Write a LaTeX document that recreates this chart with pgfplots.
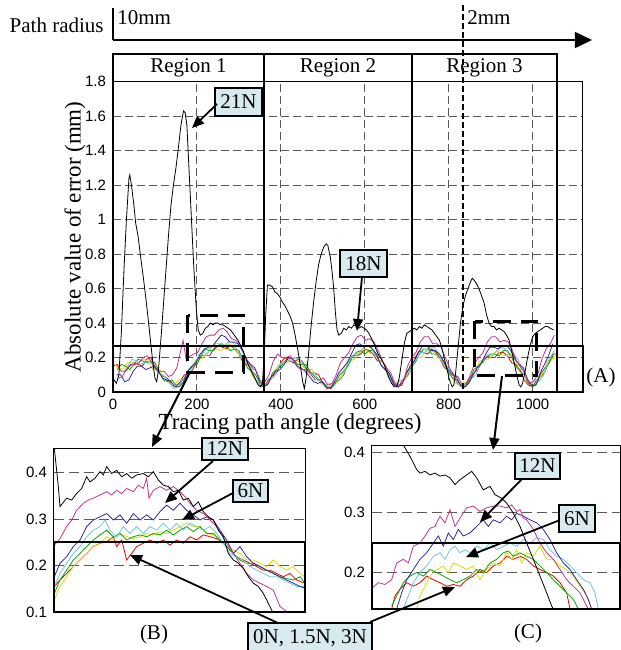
\documentclass[border=0pt]{standalone}
\usepackage{fontspec}
\setmainfont{Liberation Serif}
\setsansfont{Liberation Sans}
\usepackage{pgfplots}
\pgfplotsset{compat=1.18}
\usetikzlibrary{arrows.meta}
\definecolor{cR}{RGB}{235,0,0}
\definecolor{cY}{RGB}{220,220,0}
\definecolor{cG}{RGB}{0,170,0}
\definecolor{cC}{RGB}{110,195,230}
\definecolor{cB}{RGB}{50,40,160}
\definecolor{cM}{RGB}{195,50,145}
\definecolor{boxfill}{RGB}{214,234,240}
\pgfplotsset{
  every axis/.append style={scale only axis, anchor=south west,
    axis line style={line width=0.5pt},
    major tick length=0pt,
    /pgf/number format/assume math mode=true,
    ticklabel style={font=\sffamily\fontsize{7.5}{8}\selectfont},
    grid style={dash pattern=on 4pt off 2pt, black!65, line width=0.45pt}},
  ser/.style={line width=0.4pt, mark=none}
}
\begin{document}
\begin{tikzpicture}
\path[use as bounding box] (0pt,0pt) rectangle (310.5pt,-325pt);
% ---------------- main axis (A)
\begin{axis}[at={(56.5pt,-196pt)}, width=235pt, height=155.15pt,
  xmin=0, xmax=1120, ymin=0, ymax=1.8,
  xtick={0,200,400,600,800,1000}, xticklabels={0,200,400,600,800,1000},
  ytick={0,0.2,0.4,0.6,0.8,1,1.2,1.4,1.6,1.8},
  yticklabels={0,0.2,0.4,0.6,0.8,1,1.2,1.4,1.6,1.8},
  grid=major,
  ylabel={Absolute value of error (mm)},
  ylabel style={font=\fontsize{11.5}{13}\selectfont, at={(axis description cs:-0.081,0.5)}, anchor=center},
]
\addplot[ser,cR] coordinates {(0,.15)(10,.16)(20,.12)(30,.12)(40,.15)(50,.17)(60,.16)(70,.15)(80,.19)(90,.20)(100,.15)(110,.11)(120,.09)(130,.08)(140,.04)(150,.03)(160,.06)(170,.10)(180,.10)(190,.13)(200,.18)(210,.21)(220,.21)(230,.21)(240,.25)(250,.27)(260,.26)(270,.25)(280,.27)(290,.25)(300,.22)(310,.17)(320,.16)(330,.13)(340,.07)(350,.04)(360,.03)(370,.07)(380,.09)(390,.11)(400,.17)(410,.20)(420,.18)(430,.17)(440,.19)(450,.18)(460,.14)(470,.11)(480,.11)(490,.10)(500,.05)(510,.02)(520,.03)(530,.06)(540,.07)(550,.10)(560,.17)(570,.21)(580,.21)(590,.22)(600,.25)(610,.24)(620,.22)(630,.18)(640,.18)(650,.15)(660,.08)(670,.04)(680,.03)(690,.07)(700,.09)(710,.13)(720,.20)(730,.24)(740,.23)(750,.22)(760,.25)(770,.23)(780,.19)(790,.14)(800,.13)(810,.11)(820,.05)(830,.03)(840,.03)(850,.08)(860,.11)(870,.13)(880,.18)(890,.21)(900,.20)(910,.20)(920,.23)(930,.23)(940,.21)(950,.17)(960,.16)(970,.13)(980,.07)(990,.04)(1000,.03)(1010,.07)(1020,.09)(1030,.12)(1040,.18)(1048,.22)(1055,.22)};
\addplot[ser,cY] coordinates {(5,.16)(15,.13)(25,.14)(35,.17)(45,.17)(55,.16)(65,.18)(75,.19)(85,.17)(95,.13)(105,.14)(115,.12)(125,.08)(135,.05)(145,.03)(155,.07)(165,.07)(175,.08)(185,.13)(195,.18)(205,.19)(215,.20)(225,.23)(235,.27)(245,.26)(255,.24)(265,.25)(275,.28)(285,.27)(295,.23)(305,.21)(315,.19)(325,.14)(335,.08)(345,.06)(355,.06)(365,.04)(375,.07)(385,.12)(395,.16)(405,.17)(415,.17)(425,.20)(435,.20)(445,.17)(455,.14)(465,.13)(475,.13)(485,.09)(495,.05)(505,.04)(515,.05)(525,.04)(535,.06)(545,.10)(555,.16)(565,.18)(575,.19)(585,.23)(595,.25)(605,.24)(615,.22)(625,.22)(635,.21)(645,.16)(655,.09)(665,.06)(675,.06)(685,.04)(695,.07)(705,.12)(715,.18)(725,.20)(735,.20)(745,.24)(755,.25)(765,.23)(775,.20)(785,.18)(795,.16)(805,.10)(815,.05)(825,.04)(835,.06)(845,.05)(855,.08)(865,.13)(875,.18)(885,.19)(895,.19)(905,.22)(915,.24)(925,.22)(935,.21)(945,.22)(955,.21)(965,.15)(975,.09)(985,.06)(995,.06)(1005,.04)(1015,.07)(1025,.12)(1035,.18)(1045,.20)(1050,.19)(1055,.22)};
\addplot[ser,cG] coordinates {(10,.13)(20,.16)(30,.15)(40,.13)(50,.16)(60,.19)(70,.18)(80,.17)(90,.18)(100,.17)(110,.12)(120,.07)(130,.06)(140,.07)(150,.04)(160,.05)(170,.08)(180,.13)(190,.15)(200,.16)(210,.21)(220,.25)(230,.24)(240,.24)(250,.27)(260,.28)(270,.26)(280,.24)(290,.25)(300,.24)(310,.19)(320,.14)(330,.12)(340,.10)(350,.05)(360,.03)(370,.05)(380,.11)(390,.13)(400,.15)(410,.18)(420,.20)(430,.19)(440,.16)(450,.16)(460,.16)(470,.12)(480,.09)(490,.07)(500,.06)(510,.03)(520,.02)(530,.05)(540,.10)(550,.12)(560,.15)(570,.20)(580,.23)(590,.24)(600,.22)(610,.24)(620,.24)(630,.20)(640,.15)(650,.13)(660,.10)(670,.05)(680,.03)(690,.05)(700,.12)(710,.14)(720,.17)(730,.22)(740,.25)(750,.25)(760,.22)(770,.22)(780,.21)(790,.16)(800,.11)(810,.08)(820,.07)(830,.03)(840,.03)(850,.07)(860,.13)(870,.15)(880,.17)(890,.20)(900,.22)(910,.22)(920,.21)(930,.24)(940,.24)(950,.20)(960,.15)(970,.12)(980,.10)(990,.05)(1000,.03)(1010,.05)(1020,.11)(1030,.14)(1040,.17)(1050,.22)};
\addplot[ser,cC] coordinates {(15,.12)(25,.12)(35,.15)(45,.19)(55,.18)(65,.16)(75,.17)(85,.18)(95,.16)(105,.12)(115,.10)(125,.09)(135,.05)(145,.02)(155,.03)(165,.07)(175,.09)(185,.12)(195,.17)(205,.22)(215,.23)(225,.22)(235,.26)(245,.28)(255,.28)(265,.27)(275,.29)(285,.29)(295,.25)(305,.20)(315,.18)(325,.15)(335,.10)(345,.05)(355,.04)(365,.07)(375,.07)(385,.09)(395,.15)(405,.17)(415,.18)(425,.18)(435,.20)(445,.19)(455,.15)(465,.11)(475,.11)(485,.09)(495,.06)(505,.03)(515,.03)(525,.06)(535,.06)(545,.08)(555,.14)(565,.19)(575,.22)(585,.22)(595,.25)(605,.27)(615,.26)(625,.21)(635,.21)(645,.17)(655,.11)(665,.06)(675,.04)(685,.07)(695,.07)(705,.10)(715,.16)(725,.20)(735,.23)(745,.23)(755,.26)(765,.26)(775,.23)(785,.17)(795,.15)(805,.12)(815,.07)(825,.04)(835,.03)(845,.07)(855,.08)(865,.10)(875,.16)(885,.20)(895,.22)(905,.21)(915,.24)(925,.26)(935,.25)(945,.21)(955,.22)(965,.19)(975,.14)(985,.08)(995,.05)(1005,.07)(1015,.06)(1025,.09)(1035,.16)(1044,.21)(1052,.24)};
\addplot[ser,cB] coordinates {(8,.10)(18,.10)(28,.06)(38,.07)(48,.12)(58,.15)(68,.15)(78,.13)(88,.14)(98,.15)(108,.12)(118,.08)(128,.07)(138,.06)(148,.03)(158,.03)(168,.06)(178,.12)(188,.15)(198,.17)(208,.22)(218,.25)(228,.26)(238,.27)(248,.30)(258,.33)(268,.32)(278,.29)(288,.29)(298,.28)(308,.24)(318,.19)(328,.16)(338,.14)(348,.07)(358,.04)(368,.04)(378,.09)(388,.12)(398,.13)(408,.16)(418,.20)(428,.19)(438,.15)(448,.14)(458,.12)(468,.09)(478,.06)(488,.05)(498,.06)(508,.03)(518,.02)(528,.06)(538,.11)(548,.14)(558,.17)(568,.22)(578,.27)(588,.28)(598,.26)(608,.27)(618,.25)(628,.22)(638,.16)(648,.13)(658,.11)(668,.05)(678,.03)(688,.04)(698,.10)(708,.15)(718,.18)(728,.23)(738,.27)(748,.27)(758,.24)(768,.24)(778,.22)(788,.18)(798,.13)(808,.10)(818,.09)(828,.04)(838,.03)(848,.05)(858,.10)(868,.14)(878,.17)(888,.22)(898,.26)(908,.26)(918,.25)(928,.27)(938,.27)(948,.24)(958,.19)(968,.16)(978,.14)(988,.07)(998,.04)(1008,.04)(1018,.11)(1028,.16)(1038,.21)(1048,.28)};
\addplot[ser,cM] coordinates {(12,.08)(22,.09)(32,.13)(42,.16)(52,.16)(62,.17)(72,.20)(82,.21)(92,.17)(102,.13)(112,.12)(122,.12)(132,.09)(142,.10)(152,.14)(167,.30)(175,.18)(184,.21)(192,.22)(202,.23)(212,.28)(222,.32)(232,.33)(242,.33)(252,.36)(262,.37)(272,.35)(282,.31)(292,.30)(302,.28)(312,.22)(322,.17)(332,.14)(342,.12)(352,.06)(362,.06)(372,.10)(382,.18)(392,.22)(402,.20)(412,.20)(422,.21)(432,.18)(442,.14)(452,.13)(462,.13)(472,.10)(482,.07)(492,.07)(502,.08)(512,.04)(522,.05)(532,.10)(542,.17)(552,.20)(562,.23)(572,.28)(582,.32)(592,.33)(602,.30)(612,.31)(622,.29)(632,.24)(642,.18)(652,.14)(662,.11)(672,.05)(682,.04)(692,.06)(702,.15)(712,.20)(722,.23)(732,.29)(742,.32)(752,.32)(762,.28)(772,.28)(782,.26)(792,.20)(802,.14)(812,.10)(822,.09)(832,.04)(842,.05)(852,.10)(862,.17)(872,.20)(882,.23)(892,.29)(902,.32)(912,.32)(922,.29)(932,.30)(942,.29)(952,.24)(962,.18)(972,.14)(982,.11)(992,.05)(1002,.06)(1012,.10)(1022,.19)(1032,.25)(1042,.28)(1052,.33)};
\addplot[ser,black] coordinates {(0,0.08)(8,0.05)(14,0.10)(20,0.35)(26,0.70)(32,1.00)(38,1.24)(40,1.26)(44,1.20)(50,1.08)(54,0.98)(60,0.90)(66,0.78)(72,0.67)(78,0.55)(84,0.42)(90,0.28)(96,0.15)(100,0.08)(104,0.06)(108,0.12)(114,0.30)(120,0.50)(126,0.70)(132,0.90)(138,1.08)(144,1.20)(150,1.30)(156,1.42)(162,1.55)(168,1.63)(172,1.62)(176,1.55)(180,1.35)(186,1.05)(192,0.75)(198,0.50)(203,0.36)(208,0.33)(214,0.34)(220,0.37)(226,0.38)(232,0.40)(238,0.39)(244,0.40)(250,0.40)(256,0.39)(262,0.39)(268,0.38)(274,0.37)(280,0.36)(286,0.34)(292,0.32)(298,0.30)(304,0.27)(310,0.24)(316,0.20)(322,0.16)(328,0.13)(334,0.10)(340,0.07)(346,0.04)(352,0.03)(356,0.05)(360,0.20)(364,0.45)(368,0.62)(374,0.62)(380,0.61)(386,0.58)(392,0.57)(398,0.55)(404,0.52)(410,0.50)(416,0.47)(422,0.44)(428,0.40)(434,0.33)(440,0.25)(446,0.16)(452,0.06)(456,0.02)(460,0.08)(466,0.22)(472,0.38)(478,0.52)(484,0.64)(490,0.74)(496,0.80)(502,0.84)(508,0.86)(512,0.85)(518,0.78)(522,0.70)(526,0.60)(530,0.46)(534,0.36)(538,0.33)(544,0.34)(550,0.37)(556,0.36)(562,0.38)(568,0.37)(574,0.39)(580,0.38)(586,0.37)(592,0.38)(598,0.37)(604,0.36)(610,0.34)(616,0.31)(622,0.28)(628,0.24)(634,0.21)(640,0.19)(646,0.16)(652,0.12)(658,0.08)(664,0.05)(670,0.03)(676,0.03)(682,0.08)(688,0.18)(694,0.28)(700,0.34)(706,0.35)(712,0.36)(718,0.37)(724,0.36)(730,0.38)(736,0.37)(742,0.39)(748,0.38)(754,0.37)(760,0.36)(766,0.34)(772,0.32)(778,0.30)(784,0.25)(790,0.19)(796,0.13)(802,0.07)(808,0.03)(812,0.04)(816,0.10)(822,0.25)(828,0.40)(834,0.50)(840,0.56)(846,0.60)(852,0.64)(856,0.66)(860,0.65)(866,0.63)(872,0.60)(878,0.56)(884,0.52)(890,0.45)(896,0.40)(902,0.38)(908,0.38)(914,0.36)(920,0.37)(926,0.36)(932,0.35)(938,0.33)(944,0.30)(950,0.24)(956,0.17)(962,0.10)(968,0.04)(972,0.03)(976,0.05)(982,0.12)(988,0.20)(994,0.27)(1000,0.32)(1006,0.34)(1012,0.35)(1018,0.36)(1024,0.37)(1030,0.38)(1036,0.38)(1042,0.37)(1050,0.36)};
\end{axis}
% ---------------- inset (B)
\begin{axis}[at={(27pt,-306pt)}, width=125.5pt, height=82pt,
  xmin=162, xmax=915, ymin=0.1, ymax=0.453,
  xtick=\empty, ytick={0.1,0.2,0.3,0.4}, yticklabels={0.1,0.2,0.3,0.4},
  ymajorgrids, grid style={dash pattern=on 5pt off 2.5pt}]
\addplot[ser,cR] coordinates {(163,0.155)(180,0.169)(200,0.183)(220,0.198)(240,0.212)(260,0.226)(280,0.241)(300,0.248)(320,0.251)(340,0.262)(350,0.241)(365,0.255)(380,0.212)(395,0.226)(410,0.241)(430,0.248)(450,0.255)(470,0.248)(490,0.255)(510,0.244)(530,0.255)(550,0.248)(570,0.262)(590,0.255)(610,0.266)(630,0.262)(650,0.258)(670,0.248)(690,0.233)(710,0.219)(730,0.212)(750,0.205)(770,0.198)(790,0.190)(810,0.190)(830,0.183)(850,0.176)(870,0.183)(890,0.169)(915,0.162)};
\addplot[ser,cY] coordinates {(163,0.126)(180,0.155)(200,0.176)(220,0.198)(240,0.212)(260,0.226)(280,0.241)(300,0.248)(320,0.262)(340,0.255)(360,0.269)(380,0.262)(400,0.258)(420,0.262)(440,0.269)(460,0.266)(480,0.273)(500,0.269)(520,0.276)(540,0.284)(560,0.291)(580,0.284)(600,0.284)(620,0.269)(640,0.266)(660,0.255)(680,0.241)(700,0.233)(720,0.226)(740,0.212)(760,0.212)(780,0.205)(800,0.198)(820,0.212)(840,0.198)(860,0.190)(880,0.198)(900,0.183)(915,0.176)};
\addplot[ser,cG] coordinates {(163,0.140)(180,0.169)(200,0.190)(220,0.212)(240,0.226)(260,0.241)(280,0.255)(300,0.266)(320,0.276)(340,0.262)(360,0.269)(380,0.255)(400,0.262)(420,0.266)(440,0.262)(460,0.269)(480,0.266)(500,0.276)(520,0.266)(540,0.276)(560,0.284)(580,0.273)(600,0.284)(620,0.269)(640,0.269)(660,0.255)(680,0.241)(700,0.226)(720,0.212)(740,0.205)(760,0.205)(780,0.198)(800,0.190)(820,0.183)(840,0.176)(860,0.172)(880,0.169)(900,0.176)(915,0.162)};
\addplot[ser,cC] coordinates {(163,0.155)(180,0.183)(200,0.205)(220,0.226)(240,0.241)(260,0.262)(280,0.276)(300,0.284)(315,0.298)(330,0.276)(350,0.262)(370,0.284)(390,0.269)(410,0.284)(430,0.269)(450,0.284)(470,0.276)(490,0.291)(510,0.276)(530,0.291)(550,0.276)(570,0.291)(590,0.284)(610,0.276)(630,0.284)(650,0.269)(670,0.248)(690,0.226)(710,0.219)(730,0.212)(750,0.198)(770,0.190)(790,0.183)(810,0.176)(830,0.176)(850,0.169)(870,0.162)(890,0.155)(915,0.155)};
\addplot[ser,cB] coordinates {(163,0.176)(180,0.205)(200,0.219)(220,0.241)(240,0.255)(260,0.284)(280,0.298)(300,0.305)(320,0.312)(340,0.298)(360,0.309)(380,0.291)(400,0.312)(420,0.298)(440,0.309)(460,0.298)(480,0.316)(500,0.330)(520,0.319)(540,0.334)(560,0.319)(580,0.309)(600,0.298)(620,0.305)(640,0.298)(660,0.276)(680,0.255)(700,0.226)(720,0.241)(740,0.219)(760,0.205)(780,0.198)(800,0.190)(820,0.183)(840,0.176)(860,0.169)(880,0.162)(900,0.155)(915,0.151)};
\addplot[ser,cM] coordinates {(163,0.244)(180,0.258)(200,0.284)(215,0.298)(230,0.319)(250,0.334)(265,0.341)(280,0.345)(300,0.352)(320,0.359)(335,0.352)(350,0.362)(365,0.355)(380,0.366)(400,0.359)(415,0.373)(430,0.366)(440,0.388)(447,0.345)(460,0.362)(480,0.370)(500,0.362)(520,0.370)(540,0.359)(555,0.348)(570,0.334)(590,0.319)(610,0.312)(630,0.298)(650,0.284)(665,0.266)(680,0.248)(700,0.226)(720,0.205)(740,0.183)(760,0.169)(780,0.162)(800,0.155)(820,0.147)(840,0.112)(860,0.101)(870,0.095)};
\addplot[ser,black] coordinates {(163,0.452)(175,0.370)(180,0.327)(200,0.345)(215,0.341)(230,0.355)(245,0.366)(260,0.391)(270,0.380)(285,0.388)(300,0.402)(310,0.395)(320,0.413)(335,0.398)(350,0.405)(365,0.391)(380,0.398)(395,0.388)(410,0.395)(430,0.398)(445,0.391)(460,0.402)(475,0.384)(490,0.373)(505,0.370)(520,0.359)(535,0.362)(550,0.341)(565,0.345)(580,0.327)(595,0.337)(610,0.316)(625,0.305)(640,0.298)(655,0.276)(670,0.262)(685,0.226)(700,0.212)(715,0.205)(730,0.194)(745,0.176)(760,0.162)(775,0.155)(790,0.140)(800,0.126)(815,0.104)(820,0.098)};
\end{axis}
% ---------------- inset (C)
\begin{axis}[at={(186pt,-304.5pt)}, width=124pt, height=82pt,
  xmin=156, xmax=900, ymin=0.139, ymax=0.413,
  xtick=\empty, ytick={0.2,0.3,0.4}, yticklabels={0.2,0.3,0.4},
  ymajorgrids, grid style={dash pattern=on 5pt off 2.5pt}]
\addplot[ser,cR] coordinates {(215,0.139)(225,0.161)(240,0.172)(260,0.183)(280,0.177)(300,0.183)(320,0.194)(340,0.188)(360,0.183)(380,0.177)(400,0.180)(420,0.177)(440,0.188)(460,0.194)(480,0.205)(500,0.200)(520,0.211)(540,0.216)(560,0.227)(580,0.222)(600,0.227)(620,0.222)(640,0.211)(660,0.205)(680,0.200)(700,0.194)(720,0.183)(740,0.166)(750,0.139)};
\addplot[ser,cY] coordinates {(290,0.139)(300,0.161)(315,0.177)(330,0.194)(350,0.205)(370,0.211)(385,0.200)(400,0.216)(420,0.211)(440,0.205)(460,0.211)(480,0.188)(500,0.205)(520,0.216)(540,0.211)(560,0.233)(575,0.222)(590,0.238)(605,0.216)(620,0.233)(640,0.227)(660,0.244)(680,0.222)(700,0.222)(720,0.211)(740,0.205)(760,0.194)(780,0.177)(800,0.161)(815,0.139)};
\addplot[ser,cG] coordinates {(215,0.144)(230,0.161)(250,0.183)(270,0.194)(290,0.200)(310,0.194)(330,0.205)(350,0.200)(370,0.194)(390,0.188)(410,0.183)(430,0.188)(450,0.194)(470,0.205)(490,0.200)(510,0.216)(530,0.222)(550,0.233)(565,0.236)(580,0.227)(600,0.233)(620,0.227)(640,0.222)(660,0.211)(680,0.200)(700,0.188)(720,0.177)(740,0.166)(760,0.155)(775,0.139)};
\addplot[ser,cC] coordinates {(250,0.139)(265,0.161)(280,0.183)(300,0.200)(320,0.211)(340,0.227)(360,0.233)(375,0.222)(390,0.238)(405,0.244)(420,0.233)(435,0.238)(450,0.233)(470,0.244)(490,0.238)(510,0.249)(530,0.238)(550,0.244)(570,0.249)(590,0.244)(610,0.255)(630,0.249)(650,0.258)(670,0.255)(690,0.238)(710,0.227)(730,0.222)(750,0.211)(770,0.200)(790,0.188)(810,0.183)(825,0.166)(835,0.139)};
\addplot[ser,cB] coordinates {(230,0.139)(245,0.166)(260,0.188)(280,0.205)(300,0.222)(320,0.233)(340,0.249)(355,0.261)(370,0.244)(385,0.266)(400,0.255)(415,0.272)(430,0.261)(450,0.266)(470,0.277)(490,0.288)(505,0.277)(520,0.288)(540,0.283)(560,0.294)(575,0.288)(590,0.299)(610,0.294)(630,0.288)(650,0.283)(670,0.272)(690,0.255)(710,0.233)(730,0.216)(750,0.205)(770,0.188)(790,0.172)(805,0.155)(815,0.139)};
\addplot[ser,cM] coordinates {(156,0.174)(175,0.183)(195,0.180)(215,0.188)(230,0.216)(250,0.222)(265,0.216)(280,0.244)(300,0.249)(315,0.261)(330,0.274)(345,0.277)(360,0.294)(375,0.283)(390,0.305)(405,0.277)(420,0.291)(440,0.308)(460,0.311)(480,0.302)(500,0.308)(520,0.311)(540,0.311)(560,0.308)(575,0.313)(590,0.302)(600,0.305)(610,0.291)(620,0.288)(640,0.272)(660,0.249)(680,0.233)(700,0.222)(720,0.205)(740,0.188)(760,0.177)(780,0.166)(800,0.144)(805,0.139)};
\addplot[ser,black] coordinates {(240,0.422)(250,0.413)(270,0.394)(290,0.372)(300,0.366)(315,0.369)(330,0.363)(345,0.366)(360,0.361)(375,0.363)(390,0.358)(405,0.347)(420,0.355)(435,0.361)(455,0.369)(470,0.358)(490,0.338)(510,0.344)(525,0.330)(545,0.324)(560,0.316)(580,0.299)(600,0.277)(620,0.249)(640,0.222)(660,0.194)(680,0.166)(695,0.144)(700,0.139)};
\end{axis}
% ---------------- annotations (pixel coordinates)
\begin{scope}[x=0.5pt,y=-0.5pt, font=\fontsize{10.5}{12}\selectfont]
\node[font=\fontsize{11.5}{13}\selectfont] at (290,424) {Tracing path angle (degrees)};
% path radius
\node[anchor=east, inner sep=1pt] at (106,25) {Path radius};
\draw[line width=0.8pt] (113,8) -- (113,40);
\draw[line width=0.8pt, -{Triangle[length=8.5pt,width=8pt]}] (113,40) -- (592,40);
\node[anchor=west, inner sep=1pt] at (115,18) {10mm};
\node[anchor=west, inner sep=1pt] at (465,18) {2mm};
\draw[line width=1.1pt, dash pattern=on 3pt off 1.5pt] (463,5) -- (463,392);
% regions
\draw[line width=1.3pt] (113,54) rectangle (264,392);
\draw[line width=1.3pt] (264,54) rectangle (412,392);
\draw[line width=1.3pt] (412,54) rectangle (557,392);
\node at (188.5,68) {Region 1};
\node at (338,68) {Region 2};
\node at (484.5,68) {Region 3};
% (A) box
\draw[line width=0.9pt] (113,346) rectangle (583,392);
\node at (601,377) {(A)};
% dashed zoom boxes
\draw[line width=1.5pt, dash pattern=on 9pt off 5pt] (188,315) rectangle (244,372);
\draw[line width=1.5pt, dash pattern=on 9pt off 5pt] (475,321) rectangle (537,375);
% zoom arrows
\draw[line width=1pt, -{Triangle[length=6pt,width=5pt]}] (190,372) -- (152,447);
\draw[line width=1pt, -{Triangle[length=6pt,width=5pt]}] (502,376) -- (493,450);
% inset boxes at 0.25
\draw[line width=0.9pt] (54,542) rectangle (305,612);
\draw[line width=0.9pt] (372,543) rectangle (620,609);
\node at (154,634) {(B)};
\node at (528,633) {(C)};
% force labels
\tikzset{lbl/.style={draw, line width=0.8pt, fill=boxfill}}
\draw[lbl] (215,88) rectangle (262,116); \node at (238.5,102) {21N};
\draw[line width=0.9pt, -{Triangle[length=6pt,width=5pt]}] (217,104) -- (192,128);
\draw[lbl] (340,250) rectangle (387,277); \node at (363.5,263.5) {18N};
\draw[line width=0.9pt, -{Triangle[length=6pt,width=5pt]}] (362,277) -- (357,331);
\draw[line width=0.9pt, -{Triangle[length=6pt,width=5pt]}] (213,461) -- (165,503);
\draw[lbl] (202,438) rectangle (248,460); \node at (225,449) {12N};
\draw[line width=0.9pt, -{Triangle[length=6pt,width=5pt]}] (233,493) -- (182,520);
\draw[lbl] (233,480) rectangle (268,502); \node at (250.5,491) {6N};
\draw[line width=0.9pt, -{Triangle[length=6pt,width=5pt]}] (278,623) -- (130,555);
\draw[line width=0.9pt, -{Triangle[length=6pt,width=5pt]}] (370,622) -- (455,587);
\draw[lbl] (248,623) rectangle (372,656); \node at (310,638) {0N, 1.5N, 3N};
\draw[line width=0.9pt, -{Triangle[length=6pt,width=5pt]}] (522,479) -- (480,522);
\draw[lbl] (515,453) rectangle (560,479); \node at (537.5,466) {12N};
\draw[line width=0.9pt, -{Triangle[length=6pt,width=5pt]}] (560,520) -- (466,557);
\draw[lbl] (559,505) rectangle (595,532); \node at (577,518.5) {6N};
\end{scope}
\end{tikzpicture}
\end{document}
